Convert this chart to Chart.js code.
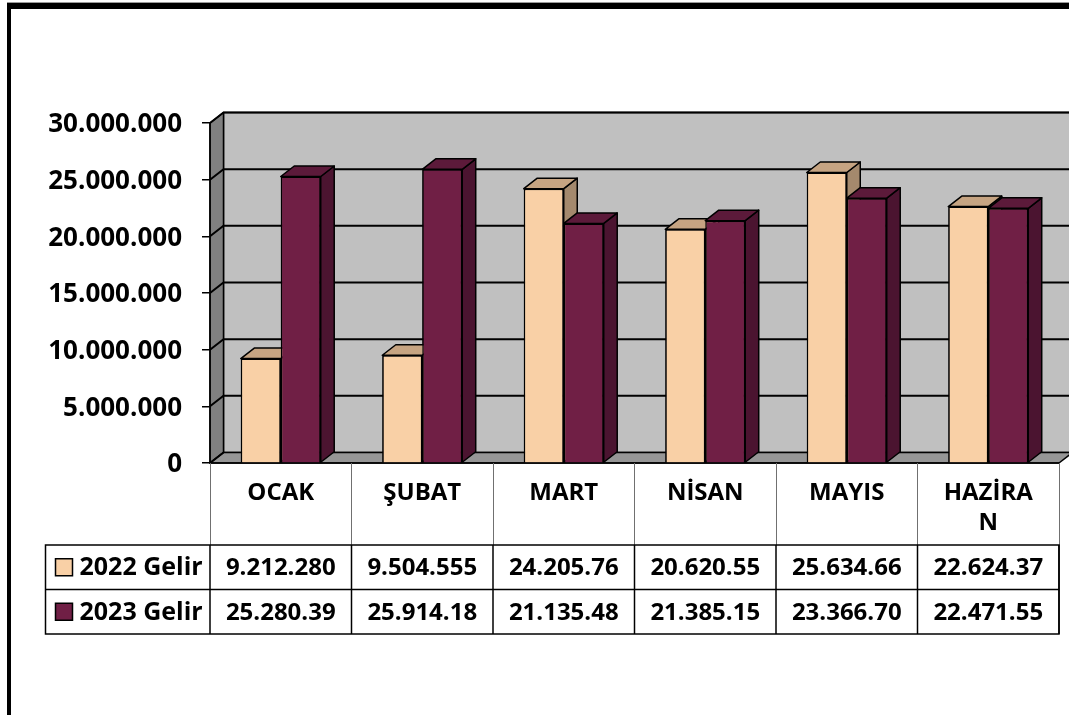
<!DOCTYPE html>
<html><head><meta charset="utf-8">
<script src="https://cdn.jsdelivr.net/npm/chart.js@4.4.1/dist/chart.umd.min.js"></script>
<style>
html,body{margin:0;padding:0;background:#fff;overflow:hidden;}
#wrap{position:relative;width:1069px;height:715px;overflow:hidden;}
#frame{position:absolute;left:7px;top:3px;width:1100px;height:760px;border-top:6px solid #000;border-left:4px solid #000;pointer-events:none;box-shadow:0 -1px 0 #9a9a9a;}
canvas{position:absolute;left:0;top:0;}
</style></head>
<body><div id="wrap"><canvas id="c" width="1069" height="715"></canvas><div id="frame"></div></div>
<script>
// ---- data ----
const categories = ['OCAK', 'ŞUBAT', 'MART', 'NİSAN', 'MAYIS', 'HAZİRAN'];
const seriesNames = ['2022 Gelir', '2023 Gelir'];
const gelir2022 = [9212280, 9504555, 24205760, 20620550, 25634660, 22624370];
const gelir2023 = [25280390, 25914180, 21135480, 21385150, 23366700, 22471550];
const yMin = 0, yMax = 30000000, yStep = 5000000;
// Excel's narrow data-table cells: wrap/clip limits (characters)
const labelWrapChars = 6;
const valueClipChars = 9;

// ---- style ----
const frontColors = ['#F9D0A6', '#701F45'];
const topColors = ['#C6A482', '#5C1A3A'];
const sideColors = ['#A4896D', '#4B1430'];
const DX = 13.5, DY = 10.5;
const FONT = 'Open Sans';

function fmt(n) {
  return String(Math.round(n)).replace(/\B(?=(\d{3})+(?!\d))/g, '.');
}
function chunk(s, k) {
  const chars = Array.from(s), out = [];
  for (let i = 0; i < chars.length; i += k) out.push(chars.slice(i, i + k).join(''));
  return out.length > 1 ? out : s;
}
function poly(ctx, pts, fill, stroke) {
  ctx.beginPath();
  ctx.moveTo(pts[0][0], pts[0][1]);
  for (let i = 1; i < pts.length; i++) ctx.lineTo(pts[i][0], pts[i][1]);
  ctx.closePath();
  if (fill) { ctx.fillStyle = fill; ctx.fill(); }
  if (stroke) { ctx.strokeStyle = stroke; ctx.stroke(); }
}

const walls = {
  id: 'walls',
  beforeDraw(chart) {
    const ctx = chart.ctx;
    const { left, right, top, bottom } = chart.chartArea;
    const y = chart.scales.y;
    ctx.save();
    ctx.lineWidth = 1.5;
    ctx.lineJoin = 'round';
    poly(ctx, [[left + DX, top - DY], [right + DX, top - DY], [right + DX, bottom - DY], [left + DX, bottom - DY]], '#C0C0C0', '#000');
    poly(ctx, [[left, top], [left + DX, top - DY], [left + DX, bottom - DY], [left, bottom]], '#808080', '#000');
    poly(ctx, [[left, bottom], [right, bottom], [right + DX, bottom - DY], [left + DX, bottom - DY]], '#969696', '#000');
    ctx.lineWidth = 2;
    ctx.strokeStyle = '#000';
    y.ticks.forEach(t => {
      const py = y.getPixelForValue(t.value);
      ctx.beginPath();
      ctx.moveTo(left, py);
      ctx.lineTo(left + DX, py - DY);
      if (t.value !== yMin) ctx.lineTo(right + DX, py - DY);
      ctx.stroke();
    });
    ctx.lineWidth = 1.5;
    ctx.beginPath();
    ctx.moveTo(left, top); ctx.lineTo(left, bottom); ctx.lineTo(right, bottom);
    ctx.stroke();
    ctx.restore();
  },
  afterDatasetsDraw(chart) {
    const ctx = chart.ctx;
    const metas = chart.data.datasets.map((d, i) => chart.getDatasetMeta(i));
    ctx.save();
    ctx.lineWidth = 1.5;
    ctx.lineJoin = 'round';
    for (let i = 0; i < categories.length; i++) {
      metas.forEach((m, di) => {
        const bar = m.data[i];
        const p = bar.getProps(['x', 'y', 'base', 'width'], true);
        const L = p.x - p.width / 2, R = p.x + p.width / 2, T = p.y, B = p.base;
        poly(ctx, [[R, T], [R + DX, T - DY], [R + DX, B - DY], [R, B]], sideColors[di], '#000');
        poly(ctx, [[L, T], [R, T], [R + DX, T - DY], [L + DX, T - DY]], topColors[di], '#000');
        bar.draw(ctx);
      });
    }
    ctx.restore();
  }
};

const dataTable = {
  id: 'dataTable',
  afterDraw(chart) {
    const ctx = chart.ctx;
    const x = chart.scales.x;
    const n = categories.length;
    const cw = (x.right - x.left) / n;
    const rowTop = chart.chartArea.bottom + 82;
    const rowH = 44.5;
    const legendLeft = x.left - 164.5;
    const series = [gelir2022, gelir2023];
    ctx.save();
    ctx.lineWidth = 1.5;
    ctx.strokeStyle = '#000';
    ctx.strokeRect(legendLeft, rowTop, x.right - legendLeft, rowH * series.length);
    for (let r = 1; r < series.length; r++) {
      ctx.beginPath(); ctx.moveTo(legendLeft, rowTop + r * rowH); ctx.lineTo(x.right, rowTop + r * rowH); ctx.stroke();
    }
    for (let i = 0; i <= n; i++) {
      const px = x.left + i * cw;
      ctx.beginPath(); ctx.moveTo(px, rowTop); ctx.lineTo(px, rowTop + rowH * series.length); ctx.stroke();
    }
    ctx.textBaseline = 'middle';
    series.forEach((vals, r) => {
      const cy = rowTop + r * rowH + rowH / 2;
      ctx.fillStyle = frontColors[r];
      ctx.fillRect(legendLeft + 10, cy - 8.5, 17, 17);
      ctx.strokeStyle = '#000';
      ctx.lineWidth = 1.5;
      ctx.strokeRect(legendLeft + 10, cy - 8.5, 17, 17);
      ctx.fillStyle = '#000';
      ctx.font = 'bold 25px "' + FONT + '"';
      ctx.textAlign = 'left';
      ctx.fillText(seriesNames[r], legendLeft + 34, cy + 1);
      ctx.font = 'bold 24px "' + FONT + '"';
      ctx.textAlign = 'center';
      vals.forEach((v, i) => {
        const txt = fmt(v).slice(0, valueClipChars);
        ctx.fillText(txt, x.getPixelForValue(i), cy + 1);
      });
    });
    ctx.restore();
  }
};

new Chart(document.getElementById('c'), {
  type: 'bar',
  data: {
    labels: categories,
    datasets: [
      { label: seriesNames[0], data: gelir2022, backgroundColor: frontColors[0], borderColor: '#000', borderWidth: 1.5 },
      { label: seriesNames[1], data: gelir2023, backgroundColor: frontColors[1], borderColor: '#000', borderWidth: 1.5 }
    ]
  },
  plugins: [walls, dataTable],
  options: {
    responsive: false,
    animation: false,
    devicePixelRatio: 1,
    events: [],
    layout: { padding: { left: 0, top: 123, right: 10, bottom: 0 } },
    datasets: { bar: { categoryPercentage: 0.565, barPercentage: 1 } },
    plugins: { legend: { display: false }, tooltip: { enabled: false }, title: { display: false } },
    scales: {
      x: {
        offset: true,
        grid: { display: true, drawOnChartArea: false, drawTicks: true, tickLength: 82, color: '#707070', lineWidth: 1, offset: true },
        border: { display: false },
        ticks: {
          color: '#000', padding: -67, maxRotation: 0, autoSkip: false,
          font: { family: FONT, size: 24, weight: 'bold', lineHeight: 1.25 },
          callback: (v, i) => chunk(categories[i], labelWrapChars)
        },
        afterFit(s) { s.height = 252; }
      },
      y: {
        min: yMin, max: yMax,
        grid: { display: true, drawOnChartArea: false, drawTicks: true, tickLength: 8, color: '#000', lineWidth: 1.5 },
        border: { display: false },
        ticks: {
          stepSize: yStep, color: '#000', padding: 20, labelOffset: 2,
          font: { family: FONT, size: 26, weight: 'bold' },
          callback: v => fmt(v)
        },
        afterFit(s) { s.width = 210; }
      }
    }
  }
});
</script>
</body></html>
